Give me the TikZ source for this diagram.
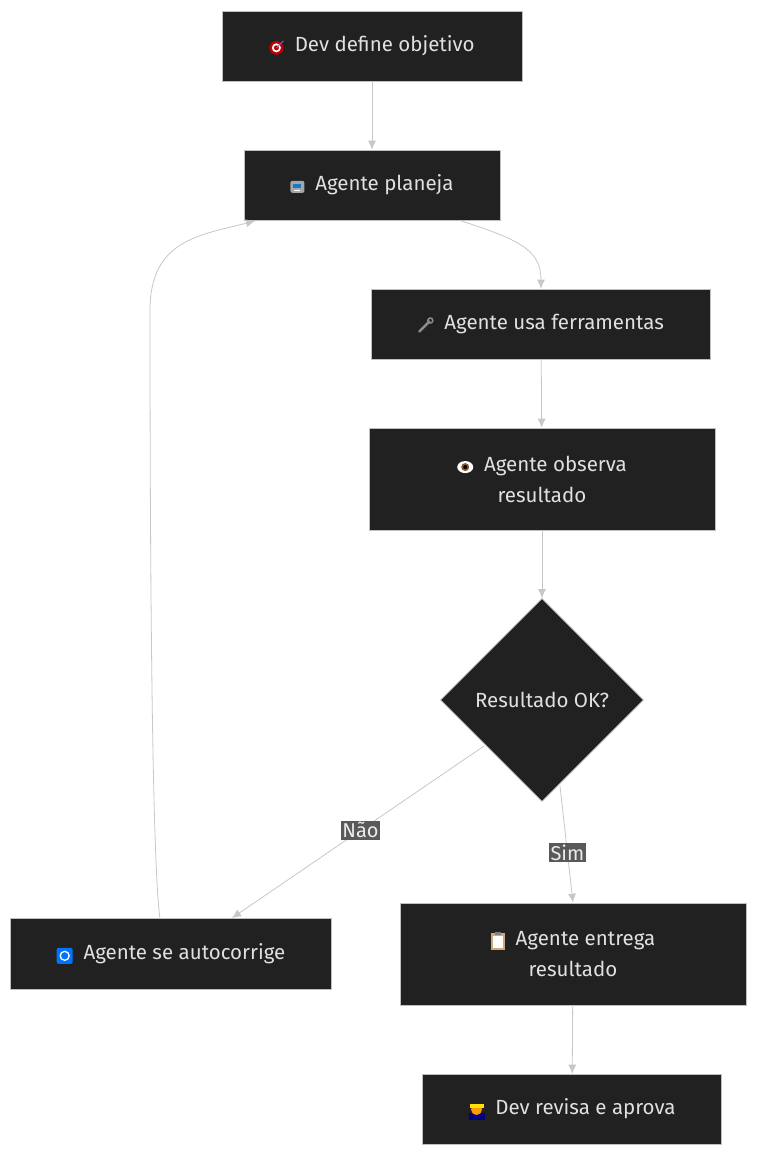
\documentclass[tikz,border=0pt]{standalone}
\usepackage{fontspec}
\setmainfont{Fira Sans}
\usetikzlibrary{arrows.meta,shapes.geometric}
\newcommand\icT{\tikz[baseline=-4pt,x=1pt,y=1pt]{\fill[red!75!black](0,0)circle(7);\fill[white](0,0)circle(4.5);\fill[red!75!black](0,0)circle(2.5);\draw[blue!60,line width=1pt](0,0)--(7,7);}}
\newcommand\icR{\tikz[baseline=-4pt,x=1pt,y=1pt]{\fill[black!35,rounded corners=2pt](-7,-6)rectangle(7,6);\fill[cyan!60!blue](-4,-1)rectangle(4,3);\fill[white](-3,-4)rectangle(3,-3);}}
\newcommand\icW{\tikz[baseline=-4pt,x=1pt,y=1pt]{\draw[black!45,line width=2.5pt,line cap=round](-6,-6)--(4,4);\draw[black!45,line width=1.5pt](5,5)circle(2.5);}}
\newcommand\icE{\tikz[baseline=-4pt,x=1pt,y=1pt]{\fill[white](0,0)ellipse(8 and 6);\fill[brown!70!black](0,0)circle(4);\fill[black](0,0)circle(2);}}
\newcommand\icC{\tikz[baseline=-4pt,x=1pt,y=1pt]{\fill[blue!55!cyan,rounded corners=2pt](-8,-8)rectangle(8,8);\draw[white,line width=1.3pt](0,0)circle(4.5);}}
\newcommand\icL{\tikz[baseline=-4pt,x=1pt,y=1pt]{\fill[brown!70](-7,-9)rectangle(7,8);\fill[white](-5,-7)rectangle(5,5);\fill[black!50](-3,6)rectangle(3,9);}}
\newcommand\icP{\tikz[baseline=-4pt,x=1pt,y=1pt]{\fill[blue!50!black](-8,-9)rectangle(8,-2);\fill[orange!80!yellow](0,1)circle(5.5);\fill[yellow!85!orange](-7,3)rectangle(7,7);}}
\begin{document}
\begin{tikzpicture}[x=1pt,y=-1pt,
 box/.style={draw=black!25,fill=black!87,text=black!12,font=\fontsize{20.5}{31}\selectfont,align=center,line width=0.6pt,inner sep=0pt},
 edge/.style={draw=black!22,line width=0.8pt,-{Latex[length=9pt,width=8pt]}},
 lbl/.style={fill=black!65,text=black!8,font=\fontsize{20}{24}\selectfont,inner sep=1.5pt}]
\useasboundingbox (0,0) rectangle (768,1172);
\node[box,minimum width=300,minimum height=70] (a) at (372,46) {\icT\ \ Dev define objetivo};
\node[box,minimum width=256,minimum height=70] (b) at (372,185) {\icR\ \ Agente planeja};
\node[box,minimum width=339,minimum height=70] (c) at (541,324) {\icW\ \ Agente usa ferramentas};
\node[box,minimum width=346,minimum height=102] (d) at (542,479) {\icE\ \ Agente observa\\resultado};
\node[box,diamond,minimum width=203,minimum height=203] (e) at (542,700) {Resultado OK?};
\node[box,minimum width=321,minimum height=71] (f) at (171,954) {\icC\ \ Agente se autocorrige};
\node[box,minimum width=346,minimum height=102] (g) at (573,954) {\icL\ \ Agente entrega\\resultado};
\node[box,minimum width=299,minimum height=70] (h) at (572,1109) {\icP\ \ Dev revisa e aprova};
\coordinate (e1) at (484,746);
\coordinate (e2) at (560,786);
\draw[edge] (a) -- (b);
\draw[edge] (460,220.5) .. controls (520,240) and (541,250) .. (c.north);
\draw[edge] (c) -- (d);
\draw[edge] (d) -- (e);
\draw[edge] (e1) -- node[lbl,pos=0.49]{Não} (232,918);
\draw[edge] (e2) -- node[lbl,pos=0.57]{Sim} (g.north);
\draw[edge] (g) -- (h);
\draw[edge] (160,918.5) .. controls (150,850) and (150,400) .. (150,310) .. controls (150,240) and (200,235) .. (255,221);
\end{tikzpicture}
\end{document}
